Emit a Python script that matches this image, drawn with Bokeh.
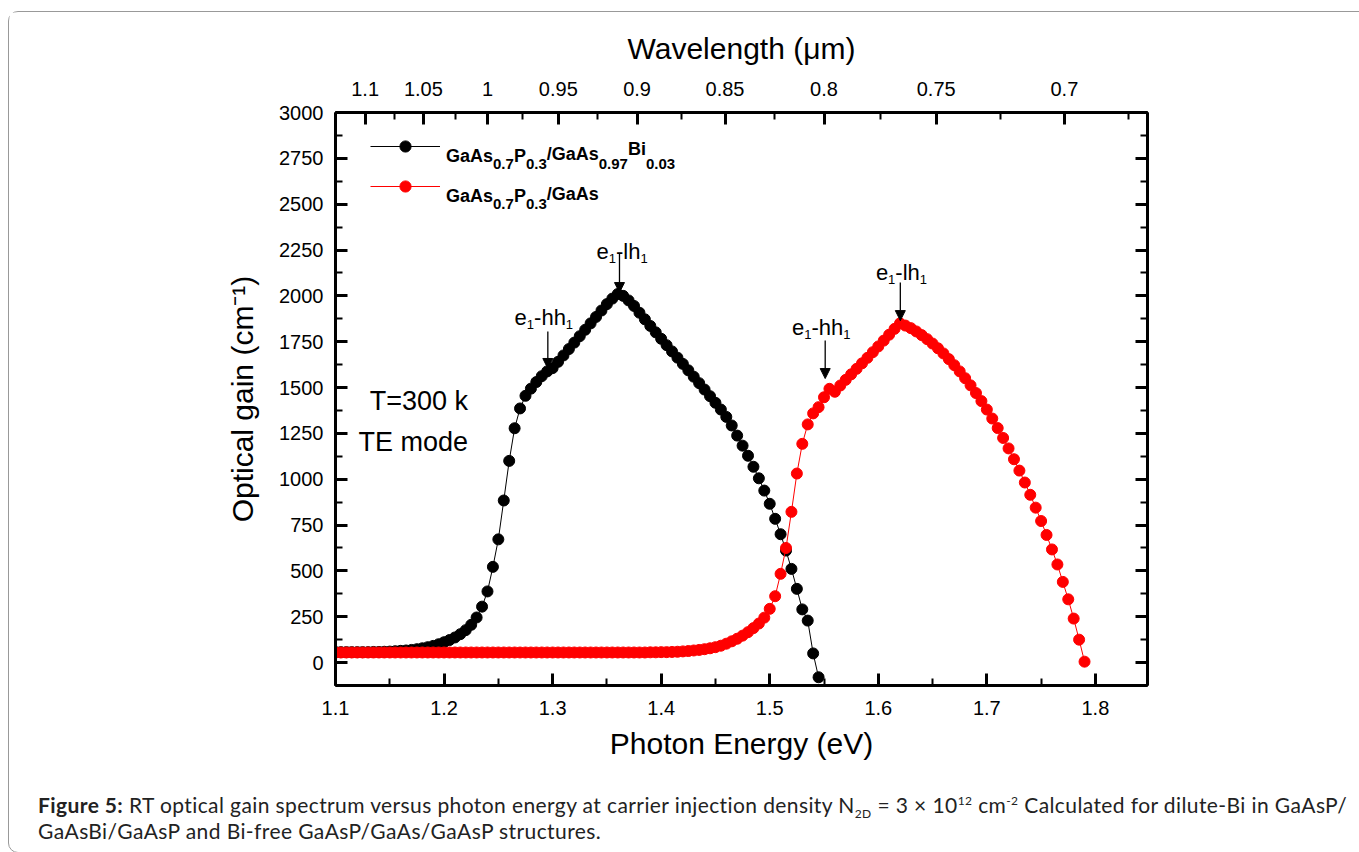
from bokeh.plotting import figure
from bokeh.models import (ColumnDataSource, LinearAxis, FixedTicker, CustomJSTickFormatter,
                          Label, Arrow, NormalHead, Legend, LegendItem, Div, Range1d)
from bokeh.layouts import column
from bokeh.embed import file_html
from bokeh.resources import INLINE

# ---------------- data ----------------
energy_bi = [
    1.100, 1.105, 1.110, 1.115, 1.120, 1.125, 1.130, 1.135, 1.140, 1.145,
    1.150, 1.155, 1.160, 1.165, 1.170, 1.175, 1.180, 1.185, 1.190, 1.195,
    1.200, 1.205, 1.210, 1.215, 1.220, 1.225, 1.230, 1.235, 1.240, 1.245,
    1.250, 1.255, 1.260, 1.265, 1.270, 1.275, 1.280, 1.285, 1.290, 1.295,
    1.300, 1.305, 1.310, 1.315, 1.320, 1.325, 1.330, 1.335, 1.340, 1.345,
    1.350, 1.355, 1.360, 1.365, 1.370, 1.375, 1.380, 1.385, 1.390, 1.395,
    1.400, 1.405, 1.410, 1.415, 1.420, 1.425, 1.430, 1.435, 1.440, 1.445,
    1.450, 1.455, 1.460, 1.465, 1.470, 1.475, 1.480, 1.485, 1.490, 1.495,
    1.500, 1.505, 1.510, 1.515, 1.520, 1.525, 1.530, 1.535, 1.540, 1.545]
gain_bi = [
    57, 57, 57, 57, 57, 57, 57, 58, 58, 59,
    60, 62, 64, 66, 69, 73, 78, 84, 91, 100,
    111, 123, 137, 155, 177, 206, 246, 305, 388, 522,
    672, 884, 1100, 1278, 1386, 1455, 1494, 1530, 1562, 1588,
    1606, 1640, 1675, 1710, 1745, 1780, 1815, 1850, 1885, 1920,
    1955, 1985, 2010, 2000, 1975, 1945, 1908, 1872, 1836, 1801,
    1766, 1731, 1697, 1663, 1629, 1594, 1559, 1524, 1489, 1453,
    1417, 1380, 1340, 1293, 1238, 1183, 1128, 1068, 1005, 938,
    866, 784, 700, 611, 511, 402, 290, 229, 50, -80]

energy_gaas = [
    1.100, 1.105, 1.110, 1.115, 1.120, 1.125, 1.130, 1.135, 1.140, 1.145,
    1.150, 1.155, 1.160, 1.165, 1.170, 1.175, 1.180, 1.185, 1.190, 1.195,
    1.200, 1.205, 1.210, 1.215, 1.220, 1.225, 1.230, 1.235, 1.240, 1.245,
    1.250, 1.255, 1.260, 1.265, 1.270, 1.275, 1.280, 1.285, 1.290, 1.295,
    1.300, 1.305, 1.310, 1.315, 1.320, 1.325, 1.330, 1.335, 1.340, 1.345,
    1.350, 1.355, 1.360, 1.365, 1.370, 1.375, 1.380, 1.385, 1.390, 1.395,
    1.400, 1.405, 1.410, 1.415, 1.420, 1.425, 1.430, 1.435, 1.440, 1.445,
    1.450, 1.455, 1.460, 1.465, 1.470, 1.475, 1.480, 1.485, 1.490, 1.495,
    1.500, 1.505, 1.510, 1.515, 1.520, 1.525, 1.530, 1.535, 1.540, 1.545,
    1.550, 1.555, 1.560, 1.565, 1.570, 1.575, 1.580, 1.585, 1.590, 1.595,
    1.600, 1.605, 1.610, 1.615, 1.620, 1.625, 1.630, 1.635, 1.640, 1.645,
    1.650, 1.655, 1.660, 1.665, 1.670, 1.675, 1.680, 1.685, 1.690, 1.695,
    1.700, 1.705, 1.710, 1.715, 1.720, 1.725, 1.730, 1.735, 1.740, 1.745,
    1.750, 1.755, 1.760, 1.765, 1.770, 1.775, 1.780, 1.785, 1.790]
gain_gaas = [
    55, 55, 55, 55, 55, 55, 55, 55, 55, 55,
    55, 55, 55, 55, 55, 55, 55, 55, 55, 55,
    55, 55, 55, 55, 55, 55, 55, 55, 55, 55,
    55, 55, 55, 55, 55, 55, 55, 55, 55, 55,
    55, 55, 55, 55, 55, 55, 55, 55, 55, 55,
    55, 55, 55, 55, 55, 55, 55, 55, 56, 56,
    57, 57, 58, 59, 61, 63, 66, 69, 73, 78,
    84, 92, 103, 116, 130, 147, 166, 188, 213, 245,
    293, 362, 484, 625, 822, 1031, 1193, 1299, 1359, 1393,
    1447, 1493, 1477, 1511, 1542, 1572, 1602, 1632, 1662, 1693,
    1724, 1756, 1788, 1820, 1850, 1838, 1824, 1806, 1786, 1764,
    1740, 1714, 1686, 1655, 1622, 1588, 1551, 1512, 1470, 1426,
    1380, 1331, 1279, 1225, 1168, 1109, 1047, 982, 915, 845,
    772, 696, 617, 535, 440, 345, 240, 125, 5]

x_ticks = [1.1, 1.2, 1.3, 1.4, 1.5, 1.6, 1.7, 1.8]
x_minor = [1.15, 1.25, 1.35, 1.45, 1.55, 1.65, 1.75]
y_ticks = [0, 250, 500, 750, 1000, 1250, 1500, 1750, 2000, 2250, 2500, 2750, 3000]
y_minor = [-125, 125, 375, 625, 875, 1125, 1375, 1625, 1875, 2125, 2375, 2625, 2875]
wavelength_ticks = [1.1, 1.05, 1.0, 0.95, 0.9, 0.85, 0.8, 0.75, 0.7]
HC = 1.24  # eV * um

# annotation anchors (energy, gain)
arrow_x = [1.2956, 1.3616, 1.5511, 1.6203]
arrow_y0 = [1805, 2231, 1756, 2073]
arrow_y1 = [1604, 2018, 1549, 1865]
trans_x = [1.2650, 1.3405, 1.5205, 1.5978]
trans_y = [1880, 2243, 1827, 2125]
trans_kind = ["hh", "lh", "hh", "lh"]

FONT = "Liberation Sans"

# ---------------- figure ----------------
p = figure(width=1349, height=760, x_range=Range1d(1.1, 1.848), y_range=Range1d(-125, 3000),
           output_backend="svg", toolbar_location=None,
           min_border_left=326, min_border_right=211, min_border_top=100, min_border_bottom=87)
p.xgrid.visible = False
p.ygrid.visible = False
p.outline_line_color = "black"
p.outline_line_width = 2
p.background_fill_color = "white"
p.border_fill_color = "white"


def style_axis(ax):
    ax.axis_line_width = 3
    ax.axis_line_color = "black"
    ax.major_tick_line_width = 3
    ax.minor_tick_line_width = 2
    ax.major_tick_in = 12
    ax.major_tick_out = 0
    ax.minor_tick_in = 7
    ax.minor_tick_out = 0
    ax.major_label_text_font = FONT
    ax.major_label_text_font_size = "20px"
    ax.major_label_text_color = "black"
    ax.axis_label_text_font = FONT
    ax.axis_label_text_font_size = "30px"
    ax.axis_label_text_font_style = "normal"
    ax.axis_label_text_color = "black"


xa = p.xaxis[0]
xa.ticker = FixedTicker(ticks=x_ticks, minor_ticks=x_minor)
style_axis(xa)
xa.axis_label = "Photon Energy (eV)"
xa.major_label_standoff = 15
xa.axis_label_standoff = 9

ya = p.yaxis[0]
ya.ticker = FixedTicker(ticks=y_ticks, minor_ticks=y_minor)
style_axis(ya)
ya.axis_label = "Optical gain (cm\u207b\u00b9)"
ya.major_label_standoff = 12
ya.axis_label_standoff = 17

ra = LinearAxis(ticker=FixedTicker(ticks=y_ticks, minor_ticks=y_minor))
style_axis(ra)
ra.major_label_text_color = None
p.add_layout(ra, "right")

top_major = [HC / w for w in wavelength_ticks]
top_minor = [(a + b) / 2 for a, b in zip(top_major[:-1], top_major[1:])]
top_minor.append(top_major[-1] + (top_major[-1] - top_minor[-1]))
ta = LinearAxis(ticker=FixedTicker(ticks=top_major, minor_ticks=top_minor),
                formatter=CustomJSTickFormatter(code="return String(Math.round(1.24/tick*100)/100);"))
style_axis(ta)
ta.axis_label = "Wavelength (\u03bcm)"
ta.major_label_standoff = 17
ta.axis_label_standoff = 14
p.add_layout(ta, "above")

# ---------------- series ----------------
src_bi = ColumnDataSource(dict(x=energy_bi, y=gain_bi))
src_gaas = ColumnDataSource(dict(x=energy_gaas, y=gain_gaas))
l1 = p.line("x", "y", source=src_bi, line_color="black", line_width=1)
s1 = p.scatter("x", "y", source=src_bi, size=11, fill_color="black", line_color="black")
l2 = p.line("x", "y", source=src_gaas, line_color="#ff0000", line_width=1)
s2 = p.scatter("x", "y", source=src_gaas, size=11, fill_color="#ff0000", line_color="#ff0000")

legend = Legend(items=[LegendItem(label=" ", renderers=[l1, s1]),
                       LegendItem(label=" ", renderers=[l2, s2])],
                location=(35, 485), orientation="vertical",
                glyph_width=70, glyph_height=28, label_height=28, label_width=1,
                spacing=12, padding=10, margin=0, label_standoff=0,
                border_line_color=None, background_fill_alpha=0,
                label_text_font_size="2px")
p.add_layout(legend)

# ---------------- rich text helper ----------------
W_REG = {' ': 278, '-': 333, '.': 278, '/': 278, '=': 584, 'A': 667, 'B': 667, 'E': 667,
         'G': 778, 'P': 667, 'T': 611, 'a': 556, 'd': 556, 'e': 556, 'h': 556, 'i': 222,
         'k': 500, 'l': 222, 'm': 833, 'o': 556, 's': 500}
W_BOLD = {' ': 278, '-': 333, '.': 278, '/': 278, 'A': 722, 'B': 722, 'G': 778, 'P': 667,
          'a': 556, 'i': 278, 's': 556}


def text_width(s, size, bold):
    tbl = W_BOLD if bold else W_REG
    return sum(tbl.get(c, 556) for c in s) * size / 1000.0


def rich(x, y, segs, size, sub_size, bold=False):
    off = 0.0
    for text, kind, dy in segs:
        sz = size if kind == "n" else sub_size
        p.add_layout(Label(x=x, y=y, x_offset=off, y_offset=dy, text=text, text_font=FONT,
                           text_font_size=f"{sz}px",
                           text_font_style="bold" if bold else "normal",
                           text_color="black", text_align="left", text_baseline="alphabetic"))
        off += text_width(text, sz, bold)


# legend texts
legend_x = 1.2018
rich(legend_x, 2765, [("GaAs", "n", 0), ("0.7", "s", -8), ("P", "n", 0), ("0.3", "s", -8),
                      ("/GaAs", "n", 2), ("0.97", "s", -8), ("Bi", "n", 7), ("0.03", "s", -8)],
     18, 15, bold=True)
rich(legend_x, 2547, [("GaAs", "n", 0), ("0.7", "s", -8), ("P", "n", 0), ("0.3", "s", -8),
                      ("/GaAs", "n", 2)], 18, 15, bold=True)

# transitions: text + arrows
for tx, ty, kind in zip(trans_x, trans_y, trans_kind):
    rich(tx, ty, [("e", "n", 0), ("1", "s", -7), ("-" + kind, "n", 0), ("1", "s", -7)], 22, 13)

for ax_, y0, y1 in zip(arrow_x, arrow_y0, arrow_y1):
    p.add_layout(Arrow(x_start=ax_, y_start=y0, x_end=ax_, y_end=y1, line_width=1.3,
                       line_color="black",
                       end=NormalHead(size=10, fill_color="black", line_color="black", line_width=1)))

p.add_layout(Label(x=1.2221, y=1429, text="T=300 k", text_font=FONT, text_font_size="27px",
                   text_align="right", text_baseline="alphabetic", text_color="black"))
p.add_layout(Label(x=1.2221, y=1202, text="TE mode", text_font=FONT, text_font_size="27px",
                   text_align="right", text_baseline="alphabetic", text_color="black"))

SS = 'style="font-size:12px;line-height:0"'
caption = Div(
    text=('<div style="padding:15px 0 0 24px;font-family:Lato;font-size:21px;line-height:26px;'
          'letter-spacing:0.4px;white-space:nowrap;color:#222;">'
          '<b>Figure 5:</b> RT optical gain spectrum versus photon energy at carrier injection '
          f'density N<sub {SS}>2D</sub> = 3 \u00d7 10<sup {SS}>12</sup> '
          f'cm<sup {SS}>-2</sup> Calculated for dilute-Bi in GaAsP/<br>'
          'GaAsBi/GaAsP and Bi-free GaAsP/GaAs/GaAsP structures.</div>'),
    width=1349, height=70)

layout = column(p, caption, margin=(11, 0, 0, 8),
                styles={"border": "1px solid #999", "border-radius": "10px"})

with open("out.html", "w") as f:
    f.write(file_html(layout, INLINE))
